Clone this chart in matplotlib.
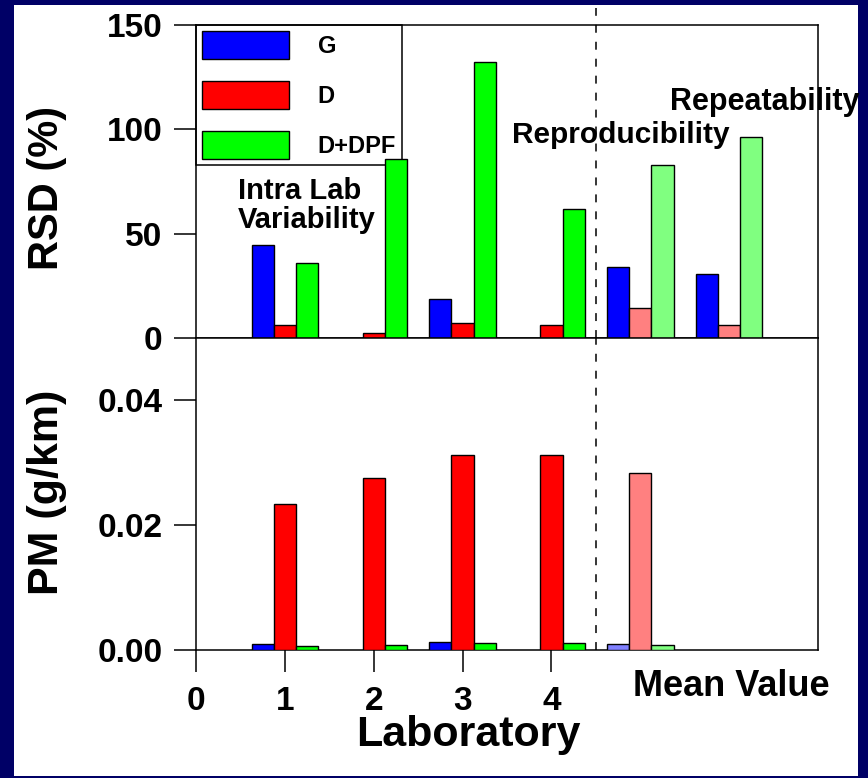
"""
Grafico RSD (%) e PM (g/km) por laboratorio - G, D, D+DPF.
Salva out.png (868x778).
"""

import numpy as np
import matplotlib
matplotlib.use("Agg")
import matplotlib.pyplot as plt
from matplotlib.patches import Rectangle
import matplotlib.transforms as mtransforms

plt.rcParams['font.family'] = ['Liberation Sans', 'DejaVu Sans']
plt.rcParams['font.weight'] = 'bold'

# --- DADOS ---
labs = [1, 2, 3, 4]
mean_pos = [5, 6]            # Reproducibility, Repeatability
series = ['G', 'D', 'D+DPF']

rsd_G = [44.6, np.nan, 18.7, np.nan]
rsd_D = [6.2, 2.4, 7.2, 6.2]
rsd_DPF = [35.9, 85.8, 132.2, 61.8]
rsd_mean_G = [34.2, 30.5]
rsd_mean_D = [14.5, 6.2]
rsd_mean_DPF = [82.9, 96.5]

pm_mean_pos = [5]
pm_G = [0.0009, np.nan, 0.00123, np.nan]
pm_D = [0.0234, 0.0275, 0.0312, 0.0312]
pm_DPF = [0.0006, 0.00075, 0.00107, 0.00107]
pm_mean_G = [0.0009]
pm_mean_D = [0.0283]
pm_mean_DPF = [0.0008]

x_ticks = [0, 1, 2, 3, 4]
rsd_ticks = [0, 50, 100, 150]
pm_ticks = [0.00, 0.02, 0.04]
pm_tick_labels = ['0.00', '0.02', '0.04']

# --- CORES ---
NAVY = '#000066'
BLUE, RED, GREEN = '#0000FF', '#FF0000', '#00FF00'
LBLUE, LRED, LGREEN = '#8080FF', '#FF8080', '#80FF80'
W = 0.25
EDGE = dict(edgecolor='black', linewidth=1.0, zorder=3)


def style_axis(ax):
    for s in ax.spines.values():
        s.set_linewidth(1.1)
    ax.tick_params(axis='y', direction='out', length=16, width=1.1,
                   labelsize=24, pad=8)
    ax.tick_params(axis='x', direction='out', length=16, width=1.1,
                   labelsize=24, pad=10)
    ax.set_xlim(0, 7)


fig = plt.figure(figsize=(8.68, 7.78), dpi=100, facecolor=NAVY)
fig.patches.append(Rectangle((14 / 868, 1 - 776 / 778), 844 / 868, 771 / 778,
                             transform=fig.transFigure, facecolor='white',
                             edgecolor='none', zorder=-10))

ax1 = fig.add_axes([196 / 868, 1 - 338 / 778, 622 / 868, 313 / 778])
ax2 = fig.add_axes([196 / 868, 1 - 650 / 778, 622 / 868, 312 / 778])

# --- PAINEL SUPERIOR: RSD ---
x = np.array(labs)
xm = np.array(mean_pos)
bG = ax1.bar(x - W, rsd_G, W, color=BLUE, label=series[0], **EDGE)
bD = ax1.bar(x, rsd_D, W, color=RED, label=series[1], **EDGE)
bP = ax1.bar(x + W, rsd_DPF, W, color=GREEN, label=series[2], **EDGE)
ax1.bar(xm - W, rsd_mean_G, W, color=BLUE, **EDGE)
ax1.bar(xm, rsd_mean_D, W, color=LRED, **EDGE)
ax1.bar(xm + W, rsd_mean_DPF, W, color=LGREEN, **EDGE)

style_axis(ax1)
ax1.set_ylim(0, 150)
ax1.set_yticks(rsd_ticks)
ax1.tick_params(axis='x', bottom=False, labelbottom=False)

leg = ax1.legend(handles=[bG, bD, bP], loc='upper left', bbox_to_anchor=(0, 1),
                 borderaxespad=0, fontsize=17, handlelength=3.69,
                 handleheight=1.48, handletextpad=1.23, labelspacing=0.91,
                 borderpad=0.24, fancybox=False, framealpha=1,
                 edgecolor='black')
leg.get_frame().set_linewidth(1.1)
leg.set_zorder(1)

ax1.axvline(4.5, ymin=0, ymax=1.054, clip_on=False, color='black',
            linewidth=1.1, dashes=(5.2, 5.9))

ax1.text(0.47, 77, "Intra Lab\nVariability", fontsize=21, ha='left',
         va='top', linespacing=1.05)
ax1.text(3.56, 93.4, "Reproducibility", fontsize=21.5, ha='left', va='baseline')
ax1.text(5.34, 109.2, "Repeatability", fontsize=22, ha='left', va='baseline')

# --- PAINEL INFERIOR: PM ---
xp = np.array(pm_mean_pos)
ax2.bar(x - W, pm_G, W, color=BLUE, **EDGE)
ax2.bar(x, pm_D, W, color=RED, **EDGE)
ax2.bar(x + W, pm_DPF, W, color=GREEN, **EDGE)
ax2.bar(xp - W, pm_mean_G, W, color=LBLUE, **EDGE)
ax2.bar(xp, pm_mean_D, W, color=LRED, **EDGE)
ax2.bar(xp + W, pm_mean_DPF, W, color=LGREEN, **EDGE)

style_axis(ax2)
ax2.set_ylim(0, 0.05)
ax2.set_yticks(pm_ticks)
ax2.set_yticklabels(pm_tick_labels)
ax2.set_xticks(x_ticks)
ax2.axvline(4.5, color='black', linewidth=1.1, dashes=(5.2, 5.9))

trans = mtransforms.blended_transform_factory(ax2.transData, ax2.transAxes)
ax2.text(6.02, -0.147, "Mean Value", transform=trans, fontsize=26,
         ha='center', va='baseline')

# --- ROTULOS ---
fig.text(468 / 868, 1 - 746 / 778, "Laboratory", fontsize=31,
         ha='center', va='baseline')
fig.text(47 / 868, 1 - 188 / 778, "RSD (%)", fontsize=30, rotation=90,
         ha='center', va='center')
fig.text(47 / 868, 1 - 492 / 778, "PM (g/km)", fontsize=31, rotation=90,
         ha='center', va='center')

fig.savefig("out.png", dpi=100, facecolor=fig.get_facecolor())
